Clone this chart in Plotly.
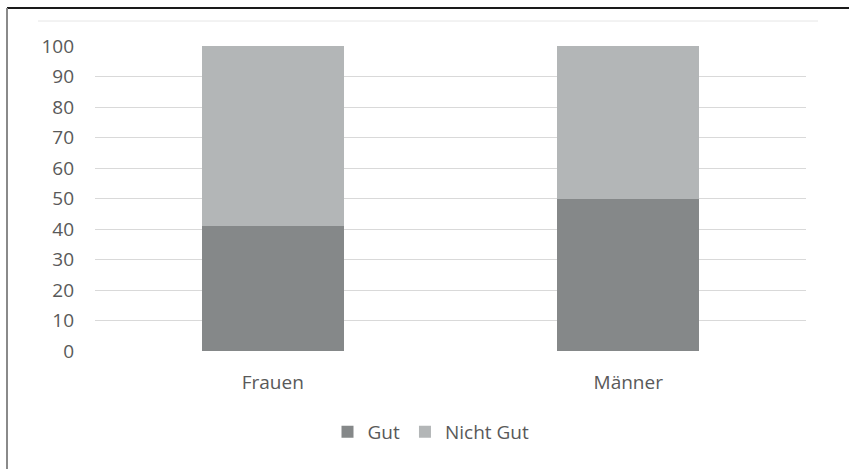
import plotly.graph_objects as go

categories = ["Frauen", "Männer"]
gut = [41, 50]
nicht_gut = [59, 50]
y_ticks = [0, 10, 20, 30, 40, 50, 60, 70, 80, 90, 100]

W, H = 849, 469
L, R, T, B = 95, 43, 46, 118
pw, ph = W - L - R, H - T - B

def px_x(x):
    return (x - L) / pw

def px_y(y):
    return (H - B - y) / ph

font = dict(family="Open Sans, sans-serif", size=19, color="#595959")

fig = go.Figure()
fig.add_trace(go.Bar(name="Gut", x=categories, y=gut, marker=dict(color="#858889", line=dict(width=0)), width=0.4))
fig.add_trace(go.Bar(name="Nicht Gut", x=categories, y=nicht_gut, marker=dict(color="#b3b6b7", line=dict(width=0)), width=0.4))

fig.update_layout(
    width=W, height=H,
    margin=dict(l=L, r=R, t=T, b=B),
    barmode="stack",
    plot_bgcolor="white", paper_bgcolor="white",
    font=font,
    showlegend=True,
    hovermode=False,
    legend=dict(orientation="h", x=px_x(431), xanchor="center", y=px_y(432), yanchor="middle",
                font=font, itemclick=False, itemsizing="constant", traceorder="normal"),
    xaxis=dict(showgrid=False, zeroline=False, showline=False, ticks="",
               ticklabelstandoff=18, tickfont=font),
    yaxis=dict(range=[0, 100], tickvals=y_ticks, showgrid=True, gridcolor="#d9d9d9", gridwidth=1.3,
               zeroline=False, showline=False, ticks="", ticklabelstandoff=20, tickfont=font),
    shapes=[
        dict(type="line", xref="paper", yref="paper", x0=px_x(7), x1=px_x(849), y0=px_y(8), y1=px_y(8),
             line=dict(color="#1a1a1a", width=2)),
        dict(type="line", xref="paper", yref="paper", x0=px_x(7), x1=px_x(7), y0=px_y(8), y1=px_y(469),
             line=dict(color="#8a8a8a", width=2)),
        dict(type="line", xref="paper", yref="paper", x0=px_x(38), x1=px_x(818), y0=px_y(21), y1=px_y(21),
             line=dict(color="#e6e6e6", width=1)),
    ],
)

fig.write_html("out.html", config={"displayModeBar": False},
               post_script="document.body.style.margin='0';document.body.style.overflow='hidden';")
